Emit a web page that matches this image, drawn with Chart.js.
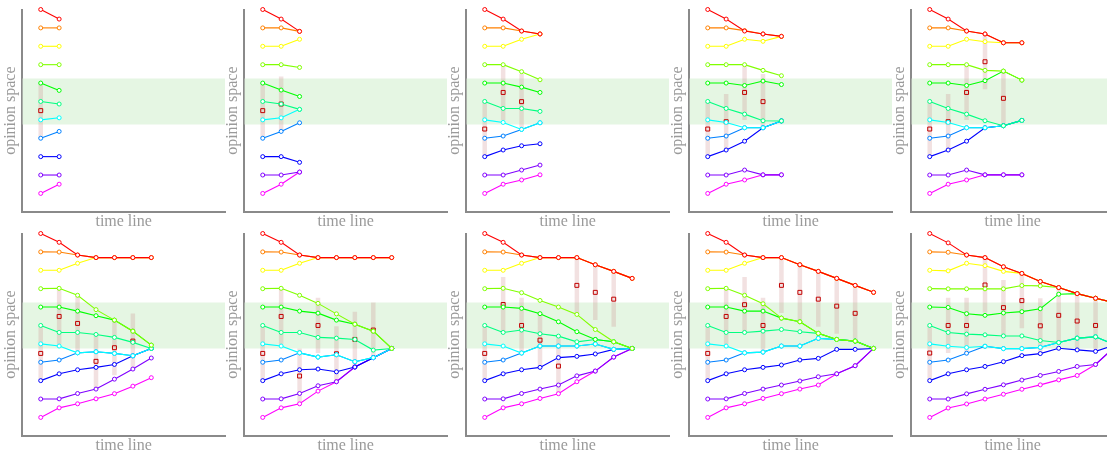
<!DOCTYPE html>
<html>
<head>
<meta charset="utf-8">
<script src="https://cdn.jsdelivr.net/npm/chart.js@4/dist/chart.umd.min.js"></script>
<style>
  html, body { margin: 0; padding: 0; background: #fff; overflow: hidden; }
  #wrap { position: relative; width: 1107px; height: 456px; overflow: hidden; background: #fff; }
  #wrap canvas { position: absolute; }
</style>
</head>
<body>
<div id="wrap"></div>
<script>
// ---------- data ----------
const agents = ['red', 'orange', 'yellow', 'chartreuse', 'green', 'spring green', 'cyan', 'azure', 'blue', 'violet', 'magenta'];
const bandLow = 3.75, bandHigh = 6.25;   // highlighted opinion band
const spread = 1.5;                      // half range of the shaded bar around each mean
const xLabel = 'time line';
const yLabel = 'opinion space';

// each run: one trajectory per agent (t = 0 .. k)
const run1 = [
  [10, 9.48], [9, 9], [8, 8], [7, 7], [6, 5.6], [5, 4.86],
  [4, 4.11], [3, 3.37], [2, 2], [1, 1], [0, 0.5]
];
const mean1 = [4.5];

const run2 = [
  [10, 9.48, 8.81], [9, 9, 8.81], [8, 8, 8.38], [7, 7, 6.85], [6, 5.62, 5.27], [5, 4.86, 4.57],
  [4, 4.11, 4.57], [3, 3.37, 3.84], [2, 2, 1.69], [1, 1, 1.16], [0, 0.5, 1.16]
];
const mean2 = [4.5, 4.86];

const run3 = [
  [10, 9.48, 8.83, 8.67], [9, 9, 8.83, 8.67], [8, 8, 8.38, 8.67], [7, 7, 6.62, 6.18],
  [6, 6, 5.78, 5.49], [5, 4.62, 4.62, 4.46], [4, 3.86, 3.48, 3.84], [3, 3.12, 3.48, 3.84],
  [2, 2.36, 2.59, 2.70], [1, 1, 1.27, 1.54], [0, 0.5, 0.73, 1.01]
];
const mean3 = [3.5, 5.49, 4.99];

const run4 = [
  [10, 9.48, 8.83, 8.67, 8.54], [9, 9, 8.85, 8.67, 8.54], [8, 8, 8.38, 8.27, 8.54],
  [7, 7, 7, 6.69, 6.40], [6, 6, 5.87, 6.11, 5.92], [5, 4.62, 4.31, 3.95, 3.94],
  [4, 3.86, 3.57, 3.57, 3.94], [3, 3.12, 3.57, 3.57, 3.94], [2, 2.36, 2.84, 3.57, 3.94],
  [1, 1, 1.27, 1.01, 1.01], [0, 0.5, 0.73, 1.01, 1.01]
];
const mean4 = [3.5, 3.9, 5.49, 4.99];

const run5 = [
  [10, 9.48, 8.83, 8.67, 8.19, 8.19], [9, 9, 8.83, 8.67, 8.19, 8.19], [8, 8, 8.38, 8.25, 8.19, 8.19],
  [7, 7, 7, 6.69, 6.65, 6.16], [6, 6, 5.87, 6.13, 6.65, 6.16], [5, 4.62, 4.31, 3.95, 3.68, 3.97],
  [4, 3.86, 3.57, 3.57, 3.68, 3.97], [3, 3.12, 3.57, 3.57, 3.68, 3.97], [2, 2.36, 2.84, 3.57, 3.68, 3.97],
  [1, 1, 1.27, 1.01, 1.01, 1.01], [0, 0.5, 0.73, 1.01, 1.01, 1.01]
];
const mean5 = [3.5, 3.9, 5.49, 7.16, 5.17];

const run6 = [
  [10, 9.52, 8.83, 8.69, 8.69, 8.69, 8.69], [9, 8.99, 8.83, 8.69, 8.69, 8.69, 8.69],
  [8, 8, 8.38, 8.69, 8.69, 8.69, 8.69], [7, 7.02, 6.64, 5.86, 5.29, 4.69, 3.93],
  [6, 6, 5.78, 5.53, 5.29, 4.69, 3.93], [5, 4.62, 4.62, 4.51, 4.35, 4.08, 3.75],
  [4, 3.88, 3.51, 3.57, 3.48, 3.35, 3.75], [3, 3.12, 3.51, 3.57, 3.48, 3.35, 3.75],
  [2, 2.37, 2.59, 2.72, 2.88, 3.35, 3.75], [1, 1.01, 1.30, 1.54, 2.08, 2.63, 3.23],
  [0, 0.52, 0.74, 1.01, 1.29, 1.70, 2.16]
];
const mean6 = [3.48, 5.49, 5.11, 3.05, 3.79, 4.15];

const run7 = [
  [10, 9.52, 8.83, 8.69, 8.69, 8.69, 8.69, 8.69], [9, 8.99, 8.83, 8.69, 8.69, 8.69, 8.69, 8.69],
  [8, 8, 8.38, 8.69, 8.69, 8.69, 8.69, 8.69], [7, 7.02, 6.64, 6.2, 5.63, 5.07, 4.69, 3.75],
  [6, 6, 5.78, 5.67, 5.29, 5.07, 4.69, 3.75], [5, 4.62, 4.62, 4.35, 4.31, 4.24, 3.66, 3.75],
  [4, 3.88, 3.51, 3.28, 3.41, 3.03, 3.25, 3.75], [3, 3.12, 3.51, 3.28, 3.41, 3.03, 3.25, 3.75],
  [2, 2.37, 2.59, 2.63, 2.48, 2.74, 3.25, 3.75], [1, 1.01, 1.30, 1.72, 1.94, 2.74, 3.25, 3.75],
  [0, 0.52, 0.74, 1.43, 1.94, 2.74, 3.25, 3.75]
];
const mean7 = [3.48, 5.49, 2.25, 5.0, 3.46, 4.24, 4.75];

const run8 = [
  [10, 9.52, 8.83, 8.69, 8.69, 8.69, 8.3, 7.94, 7.56], [9, 8.99, 8.83, 8.69, 8.69, 8.69, 8.3, 7.94, 7.56],
  [8, 8, 8.38, 8.69, 8.69, 8.69, 8.3, 7.94, 7.56], [7, 7.02, 6.78, 6.36, 6.0, 5.6, 4.78, 4.11, 3.75],
  [6, 6, 5.93, 5.64, 5.2, 4.66, 4.24, 4.11, 3.75], [5, 4.62, 4.75, 4.55, 4.42, 4.11, 4.24, 4.11, 3.75],
  [4, 3.88, 3.5, 3.88, 3.88, 3.88, 3.99, 3.70, 3.75], [3, 3.12, 3.5, 3.88, 3.88, 3.88, 3.99, 3.70, 3.75],
  [2, 2.37, 2.59, 2.72, 3.25, 3.32, 3.45, 3.70, 3.75], [1, 1.01, 1.30, 1.54, 1.76, 2.26, 2.52, 3.28, 3.75],
  [0, 0.52, 0.74, 1.03, 1.29, 1.94, 2.52, 3.28, 3.75]
];
const mean8 = [3.48, 6.14, 5.0, 4.2, 2.79, 7.18, 6.8, 6.43];

const run9 = [
  [10, 9.52, 8.83, 8.69, 8.69, 8.3, 7.94, 7.56, 7.18, 6.8], [9, 8.99, 8.83, 8.69, 8.69, 8.3, 7.94, 7.56, 7.18, 6.8],
  [8, 8, 8.38, 8.69, 8.69, 8.3, 7.94, 7.56, 7.18, 6.8], [7, 7.02, 6.64, 6.18, 5.4, 5.2, 4.57, 4.24, 4.15, 3.75],
  [6, 6, 5.78, 5.78, 5.4, 5.2, 4.57, 4.24, 4.15, 3.75], [5, 4.62, 4.62, 4.69, 4.78, 4.66, 4.57, 4.24, 4.15, 3.75],
  [4, 3.88, 3.51, 3.55, 3.88, 3.88, 4.3, 4.24, 4.15, 3.75], [3, 3.12, 3.51, 3.55, 3.88, 3.88, 4.3, 4.24, 4.15, 3.75],
  [2, 2.37, 2.59, 2.72, 2.85, 3.12, 3.21, 3.70, 3.70, 3.75], [1, 1.01, 1.30, 1.54, 1.76, 1.98, 2.21, 2.37, 2.81, 3.75],
  [0, 0.52, 0.74, 1.03, 1.29, 1.54, 1.76, 2.37, 2.81, 3.75]
];
const mean9 = [3.48, 5.49, 6.13, 5.0, 7.18, 6.8, 6.43, 6.05, 5.66];

const run10 = [
  [10, 9.49, 8.83, 8.69, 8.19, 7.83, 7.39, 7.06, 6.73, 6.48, 6.24],
  [9, 8.98, 8.83, 8.69, 8.19, 7.83, 7.39, 7.06, 6.73, 6.48, 6.24],
  [8, 7.97, 8.38, 8.25, 7.94, 7.83, 7.39, 7.06, 6.73, 6.48, 6.24],
  [7, 6.99, 6.99, 6.99, 6.99, 7.17, 7.15, 7.06, 6.73, 6.48, 6.24],
  [6, 5.98, 5.64, 5.55, 5.68, 5.75, 5.91, 6.70, 6.73, 6.48, 6.24],
  [5, 4.62, 4.53, 4.49, 4.43, 4.43, 4.18, 4.07, 4.31, 4.38, 3.96],
  [4, 3.87, 3.80, 3.87, 3.74, 3.74, 3.81, 4.07, 4.31, 4.38, 3.96],
  [3, 3.12, 3.49, 3.87, 3.74, 3.74, 3.81, 4.07, 4.31, 4.38, 3.96],
  [2, 2.37, 2.59, 2.77, 3.03, 3.36, 3.47, 3.76, 3.67, 3.59, 3.92],
  [1, 1.0, 1.28, 1.53, 1.77, 2.03, 2.28, 2.50, 2.77, 2.88, 3.8],
  [0, 0.51, 0.73, 1.0, 1.26, 1.53, 1.77, 2.04, 2.28, 2.88, 3.8]
];
const mean10 = [3.5, 5.0, 5.0, 7.2, 5.97, 6.35, 4.98, 5.55, 5.24, 5.0];

const runs = [run1, run2, run3, run4, run5, run6, run7, run8, run9, run10];
const means = [mean1, mean2, mean3, mean4, mean5, mean6, mean7, mean8, mean9, mean10];

// ---------- styles ----------
const agentColors = ['#ff0000', '#ff8000', '#ffff00', '#80ff00', '#00ff00', '#00ff80',
                     '#00ffff', '#0080ff', '#0000ff', '#8000ff', '#ff00ff'];
const panelLeft = [0, 222, 444, 667, 889];
const panelTop = [0, 224];
const W = 232, H = 231;
const axisGrey = '#8a8a8a';
const textGrey = '#9a9a9a';
const fontFam = '"Liberation Serif", "Times New Roman", serif';

const wrap = document.getElementById('wrap');

runs.forEach((run, p) => {
  const cv = document.createElement('canvas');
  cv.width = W; cv.height = H;
  cv.style.width = W + 'px'; cv.style.height = H + 'px';
  cv.style.left = panelLeft[p % 5] + 'px';
  cv.style.top = panelTop[Math.floor(p / 5)] + 'px';
  wrap.appendChild(cv);

  const datasets = [];
  // agent trajectories (red drawn on top)
  run.forEach((traj, a) => {
    datasets.push({
      label: agents[a],
      data: traj.map((v, t) => ({ x: t, y: v })),
      borderColor: agentColors[a],
      borderWidth: 1.1,
      pointRadius: 2,
      pointBorderWidth: 1,
      pointBorderColor: agentColors[a],
      pointBackgroundColor: '#ffffff',
      tension: 0,
      fill: false,
      clip: false,
      order: 0
    });
  });
  // group means
  datasets.push({
    label: 'mean',
    data: means[p].map((m, t) => ({ x: t, y: m })),
    showLine: false,
    pointStyle: 'rect',
    pointRadius: 2.8,
    pointBorderWidth: 1,
    pointBorderColor: '#c00000',
    pointBackgroundColor: 'rgba(255,255,255,0)',
    clip: false,
    order: 1
  });
  // shaded ranges around means
  const barPts = [];
  means[p].forEach((m, t) => {
    barPts.push({ x: t, y: m - spread }, { x: t, y: m + spread }, { x: t, y: null });
  });
  datasets.push({
    label: 'range',
    data: barPts,
    borderColor: 'rgba(205,140,140,0.26)',
    borderWidth: 4.5,
    borderCapStyle: 'butt',
    pointRadius: 0,
    spanGaps: false,
    fill: false,
    clip: false,
    order: 2
  });
  // band
  datasets.push({
    label: 'band top',
    data: [{ x: -1, y: bandHigh }, { x: 10, y: bandHigh }],
    borderColor: 'rgba(0,0,0,0)', borderWidth: 0, pointRadius: 0, fill: false, order: 3
  });
  datasets.push({
    label: 'band',
    data: [{ x: -1, y: bandLow }, { x: 10, y: bandLow }],
    borderColor: 'rgba(0,0,0,0)', borderWidth: 0, pointRadius: 0,
    fill: '-1', backgroundColor: '#e5f6e3', order: 3
  });

  new Chart(cv, {
    type: 'line',
    data: { datasets },
    options: {
      responsive: false,
      animation: false,
      devicePixelRatio: 1,
      events: [],
      layout: { padding: { left: 0, top: 9.5, right: 7, bottom: 0 } },
      plugins: { legend: { display: false }, tooltip: { enabled: false }, title: { display: false } },
      scales: {
        x: {
          type: 'linear', min: -1, max: 10,
          ticks: { display: false },
          grid: { display: false, drawTicks: false },
          border: { display: true, color: axisGrey, width: 2 },
          title: { display: true, text: xLabel, color: textGrey,
                   font: { family: fontFam, size: 16 }, padding: { top: 0, bottom: 0 } }
        },
        y: {
          type: 'linear', min: -1, max: 10,
          ticks: { display: false },
          grid: { display: false, drawTicks: false },
          border: { display: true, color: axisGrey, width: 2 },
          title: { display: true, text: yLabel, color: textGrey,
                   font: { family: fontFam, size: 16 }, padding: { top: 0.7, bottom: 2.4 } }
        }
      }
    }
  });
});
</script>
</body>
</html>
